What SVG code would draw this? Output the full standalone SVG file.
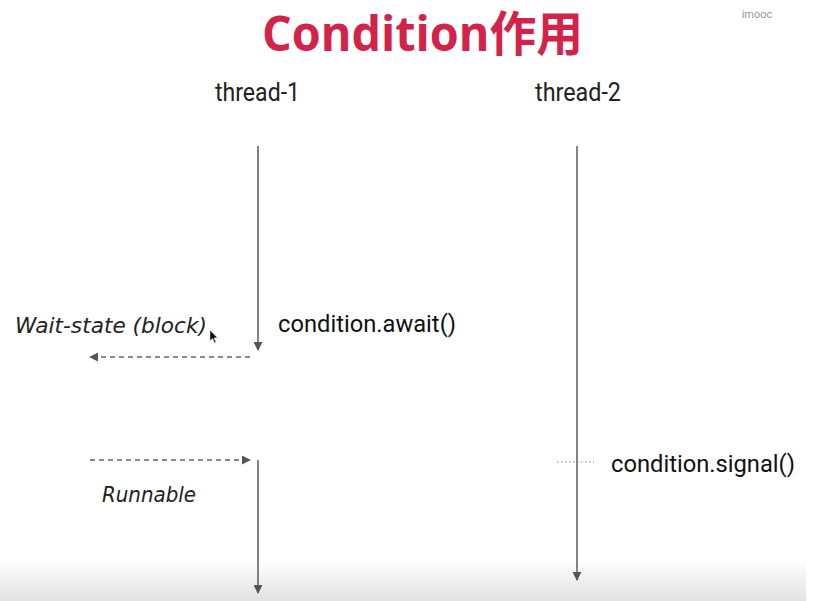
<svg xmlns="http://www.w3.org/2000/svg" width="823" height="601" viewBox="0 0 823 601">
<defs>
<linearGradient id="bg" x1="0" y1="0" x2="0" y2="1">
<stop offset="0" stop-color="#ffffff"/>
<stop offset="1" stop-color="#e2e2e2"/>
</linearGradient>
<marker id="ah" viewBox="0 0 10 10" refX="9" refY="5" markerWidth="9" markerHeight="9" markerUnits="userSpaceOnUse" orient="auto">
<path d="M0,0 L10,5 L0,10 z" fill="#555"/>
</marker>
</defs>
<style>
.title{font-family:"Open Sans","Noto Sans CJK SC",sans-serif;font-weight:bold;font-size:48px;fill:#d3234b}
.th{font-family:Roboto,"Liberation Sans",sans-serif;font-size:25px;fill:#222}
.code{font-family:Roboto,"Liberation Sans",sans-serif;font-size:23px;fill:#111}
.hand{font-family:"DejaVu Sans","Liberation Sans",sans-serif;font-style:italic;font-size:21px;fill:#222}
.life{stroke:#666;stroke-width:1.6;fill:none}
.dash{stroke:#666;stroke-width:1.3;stroke-dasharray:5 4;fill:none}
</style>
<rect x="0" y="0" width="823" height="601" fill="#ffffff"/>
<rect x="0" y="560" width="806" height="41" fill="url(#bg)"/>
<text x="757" y="18" font-family="Roboto,'Liberation Sans',sans-serif" font-size="11" fill="#999" text-anchor="middle">imooc</text>
<text class="title" x="262" y="51" textLength="321" lengthAdjust="spacingAndGlyphs">Condition作用</text>
<g id="thread-1">
<text class="th" x="215" y="101" textLength="85" lengthAdjust="spacingAndGlyphs">thread-1</text>
</g>
<g id="thread-2">
<text class="th" x="535" y="101" textLength="86" lengthAdjust="spacingAndGlyphs">thread-2</text>
</g>
<g id="await">
<text class="code" x="278" y="332" textLength="178" lengthAdjust="spacingAndGlyphs">condition.await()</text>
</g>
<g id="signal">
<text class="code" x="611" y="472" textLength="184" lengthAdjust="spacingAndGlyphs">condition.signal()</text>
</g>
<g id="wait-state">
<text class="hand" x="15" y="333" textLength="192" lengthAdjust="spacingAndGlyphs">Wait-state (block)</text>
<path d="M210,330 L210,341 L212.5,338.5 L214.5,343 L216,342.3 L214,338 L217.5,338 z" fill="#111" stroke="#fff" stroke-width="0.5"/>
</g>
<g id="runnable">
<text class="hand" x="102" y="502" textLength="94" lengthAdjust="spacingAndGlyphs">Runnable</text>
</g>
<g id="connectors">
<line class="life" x1="258" y1="146" x2="258" y2="350" marker-end="url(#ah)"/>
<line class="life" x1="258" y1="460" x2="258" y2="593" marker-end="url(#ah)"/>
<line class="life" x1="577" y1="146" x2="577" y2="580" marker-end="url(#ah)"/>
<line class="dash" x1="250" y1="357" x2="90" y2="357" marker-end="url(#ah)"/>
<line class="dash" x1="90" y1="460" x2="250" y2="460" marker-end="url(#ah)"/>
<line x1="557" y1="462" x2="594" y2="462" stroke="#888" stroke-width="1.2" stroke-dasharray="1.5 2.5"/>
</g>
</svg>
